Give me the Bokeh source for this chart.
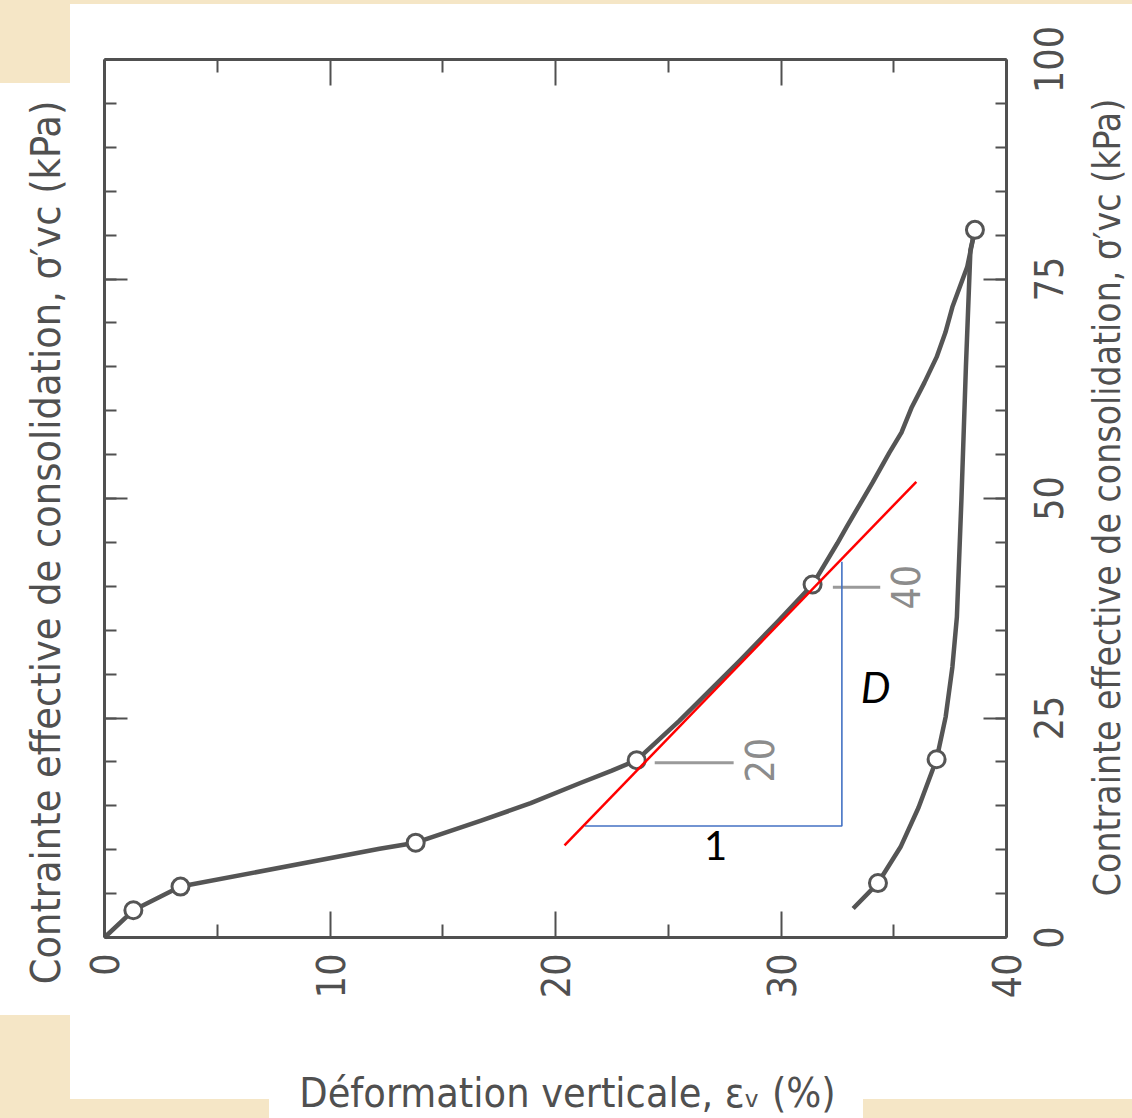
import math
from bokeh.plotting import figure
from bokeh.models import Range1d, LinearAxis, FixedTicker, CustomLabelingPolicy
from bokeh.core.properties import value
from bokeh.embed import file_html
from bokeh.resources import INLINE

# ---------------- data ----------------
# measured points, loading branch
load_x = [1.28, 3.37, 13.8, 23.6, 31.4, 38.6]
load_y = [3.1, 5.8, 10.8, 20.2, 40.2, 80.6]
# measured points, unloading branch
unload_x = [36.9, 34.3]
unload_y = [20.3, 6.2]
# traced smooth curve, loading branch
load_curve_x = [0.0, 1.28, 3.37, 12.2, 13.8, 16.7, 18.9, 21.1, 22.5, 23.6, 25.5, 28.2,
                29.9, 31.4, 32.5, 32.9, 33.6, 34.06, 34.8, 35.34, 35.8, 36.36, 36.9,
                37.29, 37.6, 38.26, 38.6]
load_curve_y = [0.0, 3.1, 5.8, 10.1, 10.8, 13.3, 15.3, 17.6, 19.0, 20.2, 24.7, 31.6,
                36.1, 40.2, 44.9, 46.7, 49.8, 51.8, 55.2, 57.5, 60.4, 63.2, 66.1,
                68.9, 71.8, 76.4, 80.6]
# traced smooth curve, unloading branch
unload_curve_x = [38.6, 38.4, 38.2, 38.0, 37.8, 37.6, 37.3, 36.9, 36.1, 35.3, 34.3, 33.2]
unload_curve_y = [80.6, 78.3, 65.0, 49.8, 36.5, 30.8, 25.1, 20.3, 14.8, 10.3, 6.2, 3.3]
# tangent (red) and slope triangle (blue)
tangent_x = [20.4, 36.0]
tangent_y = [10.5, 51.9]
triangle_x = [21.3, 32.7, 32.7]
triangle_y = [12.7, 12.7, 42.8]
# stress annotations
stress_labels = ["20", "40"]
stress_label_x = [29.05, 35.5]
stress_label_y = [20.2, 39.9]
leader_x0 = [24.4, 32.3]
leader_x1 = [27.9, 34.4]
leader_y = [19.9, 39.9]
# slope annotations
slope_labels = ["1", "D"]
slope_label_x = [27.1, 34.2]
slope_label_y = [10.5, 28.5]
# axes
x_ticks = [0, 10, 20, 30, 40]
x_minor = [5, 15, 25, 35]
y_ticks = [0, 25, 50, 75, 100]
y_minor = list(range(0, 101, 5))
x_title = "Déformation verticale, εᵥ (%)"
y_title = "Contrainte effective de consolidation, σ′vc (kPa)"

# ---------------- layout (pixels of the 1132 x 1118 page) ----------------
W, H = 1132, 1118
FX0, FX1, FY_TOP, FY_BOT = 104, 1006, 59, 937     # where x=0..40 and y=100..0 lie
kx = (FX1 - FX0) / 40.0
ky = (FY_BOT - FY_TOP) / 100.0


def dx(px):
    return (px - FX0) / kx


def dy(py):
    return (FY_BOT - py) / ky


FONT = "'DejaVu Sans Condensed', 'Liberation Sans Narrow', 'DejaVu Sans', sans-serif"
INK = "#505050"
BEIGE = "#f5e6c6"

bg = ("linear-gradient(#fff,#fff) 70px 4px / 1062px 1095px no-repeat, "
      "linear-gradient(#fff,#fff) 0px 83px / 70px 932px no-repeat, "
      "linear-gradient(#fff,#fff) 269px 1099px / 594px 19px no-repeat, " + BEIGE)

p = figure(width=W, height=H, output_backend="svg", toolbar_location=None,
           x_range=Range1d(dx(0), dx(W)), y_range=Range1d(dy(H), dy(0)),
           x_axis_location=None, y_axis_location=None,
           min_border=0)
p.border_fill_color = None
p.background_fill_color = None
p.outline_line_color = None
p.grid.visible = False
p.styles = {"background": bg}

no_labels = CustomLabelingPolicy(code="for (const i of indices) { indices.unset(i) }\nreturn indices")


def make_axis(ticks, minor, loc, bounds, major_in, minor_in, show_labels):
    ax = LinearAxis(ticker=FixedTicker(ticks=ticks, minor_ticks=minor),
                    fixed_location=loc, bounds=bounds)
    ax.axis_line_color = INK
    ax.axis_line_width = 3
    ax.major_tick_line_color = INK
    ax.minor_tick_line_color = INK
    ax.major_tick_line_width = 2
    ax.minor_tick_line_width = 2
    ax.major_tick_in = major_in
    ax.major_tick_out = 0
    ax.minor_tick_in = minor_in
    ax.minor_tick_out = 0
    ax.major_label_text_font = FONT
    ax.major_label_text_color = INK
    ax.major_label_text_font_size = "39px"
    if not show_labels:
        ax.major_label_policy = no_labels
    return ax


# bottom axis with its numbers
xa = make_axis(x_ticks, x_minor, 0, (0, 40), 26, 13, True)
xa.major_label_orientation = math.pi / 2
xa.major_label_standoff = 16
p.add_layout(xa, "below")
# top, left and right frame axes (ticks only)
p.add_layout(make_axis(x_ticks, x_minor, 100, (0, 40), 26, 13, False), "above")
p.add_layout(make_axis(y_ticks, y_minor, 0, (0, 100), 23, 12, False), "left")
p.add_layout(make_axis(y_ticks, y_minor, 40, (0, 100), 23, 11, False), "right")
# numbers of the right-hand scale, read bottom-to-top like the scan
yr = make_axis(y_ticks, y_minor, dx(1062), (0, 100), 0, 0, True)
yr.axis_line_color = None
yr.major_tick_line_color = None
yr.minor_tick_line_color = None
yr.major_label_orientation = "vertical"
yr.major_label_standoff = 0
p.add_layout(yr, "left")

# axis titles
p.text(x=[dx(45)], y=[dy(542)], text=[y_title], angle=math.pi / 2,
       text_align="center", text_baseline="middle", text_font=value(FONT),
       text_font_size="41px", text_color=INK)
p.text(x=[dx(1107)], y=[dy(497)], text=[y_title], angle=math.pi / 2,
       text_align="center", text_baseline="middle", text_font=value(FONT),
       text_font_size="37px", text_color=INK)
p.text(x=[dx(567)], y=[dy(1092)], text=[x_title],
       text_align="center", text_baseline="middle", text_font=value(FONT),
       text_font_size="41px", text_color=INK)

# curves
p.line(load_curve_x, load_curve_y, line_color="#555555", line_width=4.5, line_join="round")
p.line(unload_curve_x, unload_curve_y, line_color="#555555", line_width=4.5, line_join="round")
p.scatter(load_x, load_y, size=17, marker="circle", fill_color="white",
          line_color="#555555", line_width=3)
p.scatter(unload_x, unload_y, size=17, marker="circle", fill_color="white",
          line_color="#555555", line_width=3)

# stress annotations
p.segment(x0=leader_x0, y0=leader_y, x1=leader_x1, y1=leader_y, line_color="#9a9a9a", line_width=3)
p.text(x=stress_label_x, y=stress_label_y, text=stress_labels, angle=math.pi / 2,
       text_align="center", text_baseline="middle", text_font=value(FONT),
       text_font_size="39px", text_color="#8c8c8c")

# slope construction
p.line(triangle_x, triangle_y, line_color="#4472c4", line_width=1.6)
p.line(tangent_x, tangent_y, line_color="#ff0000", line_width=2.5)
p.text(x=slope_label_x[:1], y=slope_label_y[:1], text=slope_labels[:1],
       text_align="center", text_baseline="middle", text_font=value("Lato"),
       text_font_size="40px", text_color="black")
p.text(x=slope_label_x[1:], y=slope_label_y[1:], text=slope_labels[1:],
       text_align="center", text_baseline="middle", text_font=value("Lato"),
       text_font_style="italic", text_font_size="42px", text_color="black")

open("out.html", "w").write(file_html(p, INLINE))
